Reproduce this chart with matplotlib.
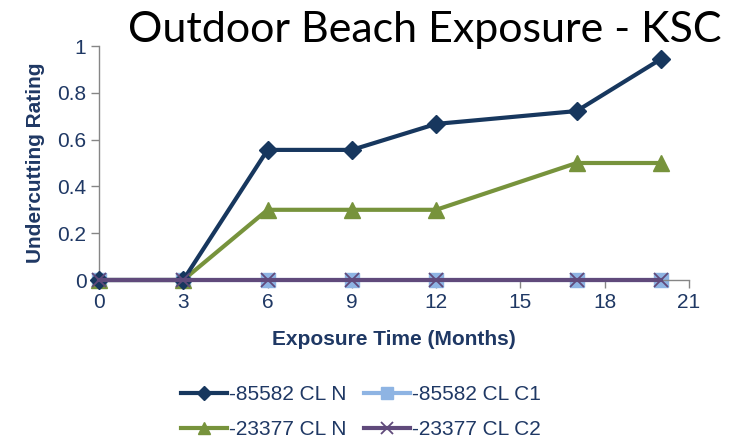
import matplotlib
matplotlib.use("Agg")
import matplotlib.pyplot as plt
from matplotlib.ticker import FixedLocator

# Exposure time (months) and undercutting ratings for each coating
months = [0, 3, 6, 9, 12, 17, 20]
cl_n_85582 = [0, 0, 0.556, 0.556, 0.667, 0.722, 0.944]
cl_c1_85582 = [0, 0, 0, 0, 0, 0, 0]
cl_n_23377 = [0, 0, 0.3, 0.3, 0.3, 0.5, 0.5]
cl_c2_23377 = [0, 0, 0, 0, 0, 0, 0]

series_labels = ["-85582 CL N", "-85582 CL C1", "-23377 CL N", "-23377 CL C2"]
x_ticks = [0, 3, 6, 9, 12, 15, 18, 21]
y_ticks = [0, 0.2, 0.4, 0.6, 0.8, 1.0]
y_tick_labels = ["0", "0.2", "0.4", "0.6", "0.8", "1"]

navy = "#17375E"
lightblue = "#8EB4E3"
green = "#77933C"
purple = "#604A7B"
axis_grey = "#868686"
text_col = "#1F3864"

plt.rcParams["font.family"] = ["Liberation Sans", "DejaVu Sans"]

fig = plt.figure(figsize=(7.3, 4.4), dpi=100)
ax = fig.add_axes([99 / 730, 160 / 440, 590 / 730, 234 / 440])

h1, = ax.plot(months, cl_n_85582, color=navy, lw=3, marker="D", ms=9,
              mfc=navy, mec=navy, label=series_labels[0], clip_on=False, zorder=4)
h2, = ax.plot(months, cl_c1_85582, color=lightblue, lw=3, marker="s", ms=10,
              mfc=lightblue, mec=lightblue, label=series_labels[1], clip_on=False, zorder=2)
h3, = ax.plot(months, cl_n_23377, color=green, lw=3, marker="^", ms=11,
              mfc=green, mec=green, label=series_labels[2], clip_on=False, zorder=3)
h4, = ax.plot(months, cl_c2_23377, color=purple, lw=3, marker="x", ms=10, mew=1.3,
              mfc=purple, mec=purple, label=series_labels[3], clip_on=False, zorder=5)

ax.set_xlim(0, 21)
ax.set_ylim(0, 1)
ax.xaxis.set_major_locator(FixedLocator(x_ticks))
ax.set_yticks(y_ticks)
ax.set_yticklabels(y_tick_labels)

for side in ("top", "right"):
    ax.spines[side].set_visible(False)
for side in ("left", "bottom"):
    ax.spines[side].set_color(axis_grey)
    ax.spines[side].set_linewidth(1)
ax.tick_params(axis="both", direction="out", length=6, width=1, color=axis_grey,
               labelsize=15, labelcolor=text_col, pad=3)

ax.set_xlabel("Exposure Time (Months)", fontsize=15, fontweight="bold",
              color=text_col, labelpad=13)
ax.set_ylabel("Undercutting Rating", fontsize=15, fontweight="bold",
              color=text_col, labelpad=9)

fig.text(425 / 730, 1 - 30 / 440, "Outdoor Beach Exposure - KSC",
         family=["Lato", "DejaVu Sans"], fontsize=31, color="black",
         ha="center", va="center")

leg = fig.legend(handles=[h1, h3, h2, h4], loc="center",
                 bbox_to_anchor=(361 / 730, 1 - 412 / 440), ncol=2, frameon=False,
                 fontsize=15, handlelength=2.2, handletextpad=0.1, columnspacing=0.85,
                 labelspacing=0.75, markerscale=0.8, borderpad=0)
for t in leg.get_texts():
    t.set_color(text_col)

fig.savefig("out.png", dpi=100)
